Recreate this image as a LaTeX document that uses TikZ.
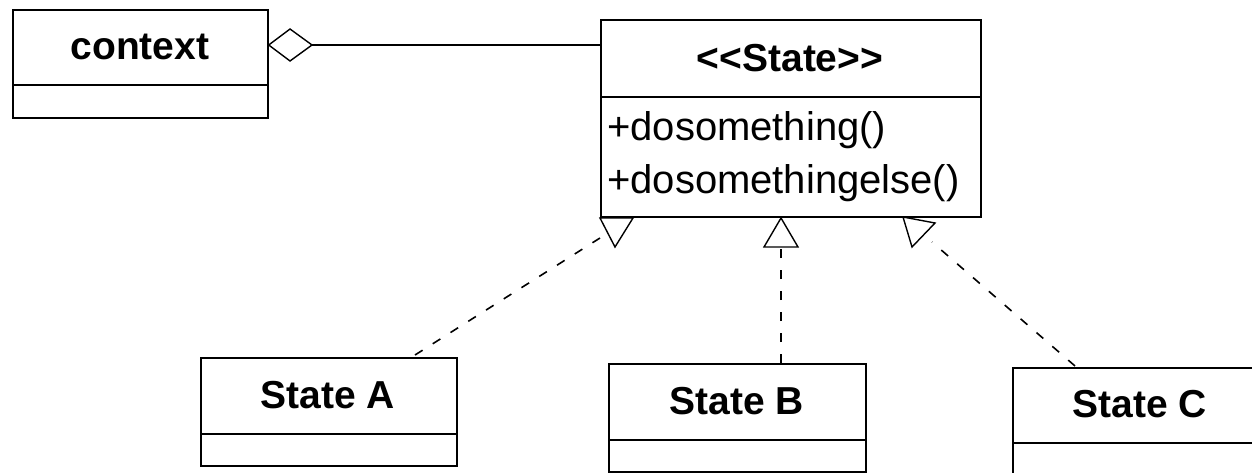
\documentclass[tikz,border=0pt]{standalone}
\usepackage{fontspec}
\setmainfont{Liberation Sans}
\begin{document}
\begin{tikzpicture}[x=1pt,y={(0pt,-1pt)},
  box/.style={draw=black,line width=1.7pt,fill=white,inner sep=0pt,anchor=north west},
  divider/.style={draw=black,line width=1.7pt},
  conn/.style={draw=black,line width=1.4pt},
  dashconn/.style={draw=black,line width=1.6pt,dash pattern=on 9pt off 12pt},
  tri/.style={draw=black,line width=1.4pt,fill=white,line join=miter},
  title/.style={font=\bfseries\fontsize{39}{39}\selectfont,inner sep=0pt},
  member/.style={font=\fontsize{40}{46}\selectfont,inner sep=0pt,anchor=west}]
\useasboundingbox (0,0) rectangle (1252,473);
\clip (0,0) rectangle (1252,473);
\fill[white] (0,0) rectangle (1252,473);
% context
\node[box,minimum width=255pt,minimum height=108pt] (ctx) at (12,9) {};
\draw[divider] (12,85) -- (267,85);
\node[title] (ctxt) at (140,47) {context};
% State interface
\node[box,minimum width=380pt,minimum height=197pt] (st) at (600,19) {};
\draw[divider] (600,97) -- (980,97);
\node[title] (stt) at (790,58) {<\kern0pt<State>\kern0pt>};
\node[member] (m1) at (607,130) {+dosomething()};
\node[member] (m2) at (607,183) {+dosomethingelse()};
% State A, B, C
\node[box,minimum width=256pt,minimum height=108pt] (sa) at (200,357) {};
\draw[divider] (200,434) -- (456,434);
\node[title] (sat) at (328,395) {State A};
\node[box,minimum width=257pt,minimum height=108pt] (sb) at (608,363) {};
\draw[divider] (608,440) -- (865,440);
\node[title] (sbt) at (737,401) {State B};
\node[box,minimum width=257pt,minimum height=108pt] (sc) at (1012,367) {};
\draw[divider] (1012,443) -- (1269,443);
\node[title] (sct) at (1140,404) {State C};
% aggregation
\coordinate (dia) at (312,45);
\draw[conn] (dia) -- (st.west |- dia);
\draw[tri] (ctx.east |- dia) -- (290,29) -- (dia) -- (290,61) -- cycle;
% realizations
\coordinate (ta) at (600,238);
\coordinate (tb) at (781,247);
\coordinate (tc) at (932,242);
\coordinate (sbtop) at (781,363);
\draw[dashconn] (415,355) -- (ta);
\draw[dashconn] (sbtop) -- (tb);
\draw[dashconn] (1075,366) -- (tc);
\draw[tri] (600,218) -- (633,218) -- (615,247) -- cycle;
\draw[tri] (781,218) -- (798,247) -- (764,247) -- cycle;
\draw[tri] (903,217) -- (935,223) -- (912,247) -- cycle;
\end{tikzpicture}
\end{document}
